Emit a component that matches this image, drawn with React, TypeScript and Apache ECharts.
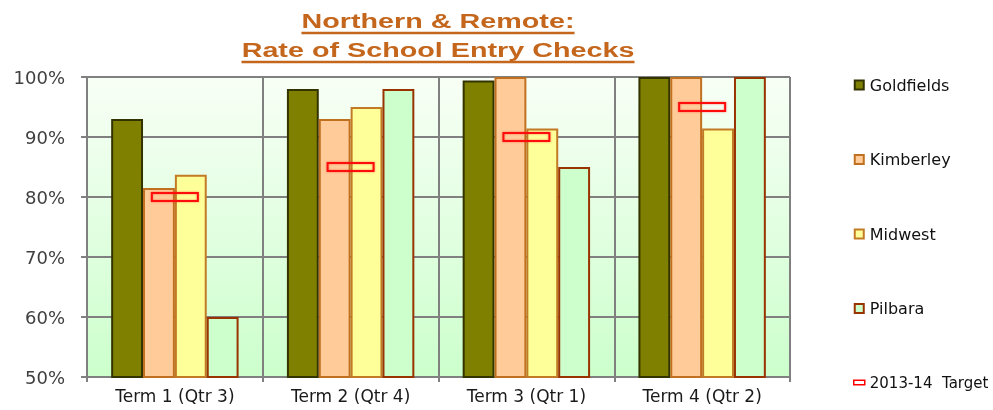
import React, { useEffect, useRef } from "react";
import * as echarts from "echarts";

const categories = ["Term 1 (Qtr 3)", "Term 2 (Qtr 4)", "Term 3 (Qtr 1)", "Term 4 (Qtr 2)"];
const goldfields = [93, 98, 99.4, 100];
const kimberley = [81.5, 93, 100, 100];
const midwest = [83.7, 95, 91.4, 91.4];
const pilbara = [60, 98, 85, 100];
const target = [80, 85, 90, 95];
const titleLines = ["Northern & Remote:", "Rate of School Entry Checks"];
const yMin = 50;
const yMax = 100;
const yInterval = 10;

const TITLE_COLOR = "#C4661C";
const TITLE_FONT = 'bold 21px "Liberation Sans", Arial, sans-serif';

function measure(text: string, font: string): number {
  const c = document.createElement("canvas").getContext("2d");
  if (!c) return text.length * 10;
  c.font = font;
  return c.measureText(text).width;
}

export default function App() {
  const ref = useRef<HTMLDivElement>(null);
  useEffect(() => {
    if (!ref.current) return;
    const chart = echarts.init(ref.current, undefined, { renderer: "svg" });

    const cx = 438;
    const w2 = measure(titleLines[1], TITLE_FONT);
    const sx = 393 / w2;
    const w1 = measure(titleLines[0], TITLE_FONT) * sx;
    const baselines = [27.5, 56.5];
    const widths = [w1, 393];
    const graphics: any[] = [];
    titleLines.forEach((t, i) => {
      graphics.push({
        type: "text",
        x: cx,
        y: baselines[i] - 7.4,
        scaleX: sx,
        style: {
          text: t,
          x: 0,
          y: 0,
          font: TITLE_FONT,
          fill: TITLE_COLOR,
          align: "center",
          verticalAlign: "middle",
        },
      });
      graphics.push({
        type: "line",
        shape: { x1: cx - widths[i] / 2, y1: baselines[i] + 5.5, x2: cx + widths[i] / 2, y2: baselines[i] + 5.5 },
        style: { stroke: TITLE_COLOR, lineWidth: 2.5 },
      });
    });

    const barSeries = (name: string, data: number[], color: string, border: string) => ({
      name,
      type: "bar",
      data,
      barGap: "0%",
      barCategoryGap: "27.5%",
      itemStyle: { color, borderColor: border, borderWidth: 2 },
    });

    const square = "path://M0,0L9,0L9,9L0,9Z";
    const targetName = "2013-14  Target";

    chart.setOption({
      animation: false,
      graphic: graphics,
      grid: {
        left: 87,
        right: 203,
        top: 77,
        bottom: 33,
        show: true,
        borderWidth: 0,
        backgroundColor: new echarts.graphic.LinearGradient(0, 0, 0, 1, [
          { offset: 0, color: "#F8FFF6" },
          { offset: 1, color: "#CCFFCC" },
        ]),
      },
      legend: {
        orient: "vertical",
        left: 853,
        top: 77,
        padding: 0,
        itemGap: 58.5,
        itemWidth: 11,
        itemHeight: 9,
        itemStyle: { borderWidth: 2 },
        textStyle: { fontFamily: '"DejaVu Sans", sans-serif', fontSize: 16, color: "#111" },
        data: [
          { name: "Goldfields", icon: square },
          { name: "Kimberley", icon: square },
          { name: "Midwest", icon: square },
          { name: "Pilbara", icon: square },
          {
            name: targetName,
            icon: "path://M0,0L11,0L11,4.5L0,4.5Z",
            itemStyle: { color: "#fff", borderColor: "#FF0000", borderWidth: 1.5 },
            textStyle: { fontSize: 15 },
          },
        ],
      },
      xAxis: {
        type: "category",
        data: categories,
        boundaryGap: true,
        axisLine: { show: true, lineStyle: { color: "#808080", width: 2 } },
        axisTick: { show: true, length: 5, lineStyle: { color: "#808080", width: 2 } },
        splitLine: { show: true, lineStyle: { color: "#808080", width: 2 } },
        axisLabel: {
          margin: 10,
          fontFamily: '"DejaVu Sans", sans-serif',
          fontSize: 17,
          color: "#1a1a1a",
        },
      },
      yAxis: {
        type: "value",
        min: yMin,
        max: yMax,
        interval: yInterval,
        axisLine: { show: true, lineStyle: { color: "#808080", width: 2 } },
        axisTick: { show: true, length: 6, lineStyle: { color: "#808080", width: 2 } },
        splitLine: { show: true, lineStyle: { color: "#808080", width: 2 } },
        axisLabel: {
          formatter: "{value}%",
          margin: 22,
          fontFamily: '"DejaVu Sans", sans-serif',
          fontSize: 18,
          color: "#404040",
        },
      },
      series: [
        barSeries("Goldfields", goldfields, "#808000", "#333300"),
        barSeries("Kimberley", kimberley, "#FFCC99", "#C0701F"),
        barSeries("Midwest", midwest, "#FFFF99", "#C27A25"),
        barSeries("Pilbara", pilbara, "#CCFFCC", "#993300"),
        {
          name: targetName,
          type: "custom",
          data: target.map((v, i) => [i, v]),
          encode: { x: 0, y: 1 },
          z: 5,
          itemStyle: { color: "#FF0000" },
          renderItem: (params: any, api: any) => {
            const p = api.coord([api.value(0), api.value(1)]);
            return {
              type: "rect",
              shape: { x: p[0] - 23, y: p[1] - 4, width: 46, height: 8 },
              style: {
                fill: "rgba(255,255,255,0)",
                stroke: "#FF1010",
                lineWidth: 2,
                shadowColor: "rgba(255,0,0,0.45)",
                shadowBlur: 2,
              },
            };
          },
        },
      ],
    });
    return () => chart.dispose();
  }, []);
  return <div ref={ref} style={{ position: "fixed", left: 0, top: 0, width: 993, height: 410 }} />;
}
